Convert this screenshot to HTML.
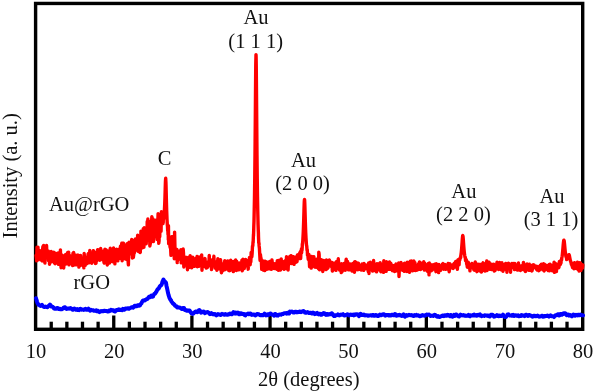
<!DOCTYPE html>
<html><head><meta charset="utf-8"><style>
html,body{margin:0;padding:0;background:#fff;}
body{width:594px;height:392px;overflow:hidden;}
svg{display:block;will-change:transform;filter:blur(0.35px);}
text{font-family:"Liberation Serif",serif;font-size:20.5px;fill:#111;}
</style></head><body>
<svg width="594" height="392" viewBox="0 0 594 392">
<rect x="0" y="0" width="594" height="392" fill="#fff"/>
<g stroke="#000" stroke-width="3.3">
<line x1="51.23" y1="321.7" x2="51.23" y2="329" />
<line x1="66.86" y1="321.7" x2="66.86" y2="329" />
<line x1="82.49" y1="321.7" x2="82.49" y2="329" />
<line x1="98.12" y1="321.7" x2="98.12" y2="329" />
<line x1="113.75" y1="315.5" x2="113.75" y2="329" />
<line x1="129.38" y1="321.7" x2="129.38" y2="329" />
<line x1="145.01" y1="321.7" x2="145.01" y2="329" />
<line x1="160.64" y1="321.7" x2="160.64" y2="329" />
<line x1="176.27" y1="321.7" x2="176.27" y2="329" />
<line x1="191.90" y1="315.5" x2="191.90" y2="329" />
<line x1="207.53" y1="321.7" x2="207.53" y2="329" />
<line x1="223.16" y1="321.7" x2="223.16" y2="329" />
<line x1="238.79" y1="321.7" x2="238.79" y2="329" />
<line x1="254.42" y1="321.7" x2="254.42" y2="329" />
<line x1="270.05" y1="315.5" x2="270.05" y2="329" />
<line x1="285.68" y1="321.7" x2="285.68" y2="329" />
<line x1="301.31" y1="321.7" x2="301.31" y2="329" />
<line x1="316.94" y1="321.7" x2="316.94" y2="329" />
<line x1="332.57" y1="321.7" x2="332.57" y2="329" />
<line x1="348.20" y1="315.5" x2="348.20" y2="329" />
<line x1="363.83" y1="321.7" x2="363.83" y2="329" />
<line x1="379.46" y1="321.7" x2="379.46" y2="329" />
<line x1="395.09" y1="321.7" x2="395.09" y2="329" />
<line x1="410.72" y1="321.7" x2="410.72" y2="329" />
<line x1="426.35" y1="315.5" x2="426.35" y2="329" />
<line x1="441.98" y1="321.7" x2="441.98" y2="329" />
<line x1="457.61" y1="321.7" x2="457.61" y2="329" />
<line x1="473.24" y1="321.7" x2="473.24" y2="329" />
<line x1="488.87" y1="321.7" x2="488.87" y2="329" />
<line x1="504.50" y1="315.5" x2="504.50" y2="329" />
<line x1="520.13" y1="321.7" x2="520.13" y2="329" />
<line x1="535.76" y1="321.7" x2="535.76" y2="329" />
<line x1="551.39" y1="321.7" x2="551.39" y2="329" />
<line x1="567.02" y1="321.7" x2="567.02" y2="329" />
</g>
<rect x="35.6" y="3.45" width="547.1" height="325.85" fill="none" stroke="#000" stroke-width="3.4"/>
<path d="M36.00 298.25L36.50 299.84L37.00 301.60L37.50 303.21L38.00 303.84L38.50 304.81L39.00 304.86L39.50 305.31L40.00 305.72L40.50 305.89L41.00 305.50L41.50 305.32L42.00 304.85L42.50 305.93L43.00 306.13L43.50 306.70L44.00 306.91L44.50 306.94L45.00 306.90L45.50 306.58L46.00 306.71L46.50 306.93L47.00 306.90L47.50 307.15L48.00 306.59L48.50 306.06L49.00 305.45L49.50 305.16L50.00 304.58L50.50 305.11L51.00 305.79L51.50 306.62L52.00 306.64L52.50 306.69L53.00 307.06L53.50 307.63L54.00 308.50L54.50 308.45L55.00 308.76L55.50 308.43L56.00 308.76L56.50 308.60L57.00 308.08L57.50 307.89L58.00 308.22L58.50 309.05L59.00 309.06L59.50 309.01L60.00 308.74L60.50 309.28L61.00 309.21L61.50 309.18L62.00 309.14L62.50 308.69L63.00 308.57L63.50 307.71L64.00 307.45L64.50 307.18L65.00 307.25L65.50 308.04L66.00 308.62L66.50 309.02L67.00 308.81L67.50 308.42L68.00 308.43L68.50 308.52L69.00 308.71L69.50 308.64L70.00 308.35L70.50 308.10L71.00 308.54L71.50 308.69L72.00 309.35L72.50 309.05L73.00 309.66L73.50 308.85L74.00 308.74L74.50 308.48L75.00 309.05L75.50 309.26L76.00 309.79L76.50 309.69L77.00 309.86L77.50 309.07L78.00 309.60L78.50 309.82L79.00 310.16L79.50 309.15L80.00 309.03L80.50 308.78L81.00 309.46L81.50 309.67L82.00 309.61L82.50 309.59L83.00 309.61L83.50 309.93L84.00 309.79L84.50 309.21L85.00 308.98L85.50 308.75L86.00 309.47L86.50 309.79L87.00 309.87L87.50 309.63L88.00 309.26L88.50 308.67L89.00 309.13L89.50 309.97L90.00 310.62L90.50 310.08L91.00 309.84L91.50 310.26L92.00 310.28L92.50 310.13L93.00 310.24L93.50 310.41L94.00 310.71L94.50 310.78L95.00 310.78L95.50 310.77L96.00 310.37L96.50 311.12L97.00 310.61L97.50 311.16L98.00 310.86L98.50 311.59L99.00 311.75L99.50 312.09L100.00 311.65L100.50 311.50L101.00 311.10L101.50 311.25L102.00 311.03L102.50 311.34L103.00 311.22L103.50 311.21L104.00 310.67L104.50 310.77L105.00 310.92L105.50 310.90L106.00 311.03L106.50 310.97L107.00 311.14L107.50 311.40L108.00 311.04L108.50 311.36L109.00 310.74L109.50 311.16L110.00 310.64L110.50 310.66L111.00 309.80L111.50 310.23L112.00 310.05L112.50 310.39L113.00 310.18L113.50 310.41L114.00 311.22L114.50 311.39L115.00 311.55L115.50 311.01L116.00 310.69L116.50 310.02L117.00 309.97L117.50 309.74L118.00 309.97L118.50 309.94L119.00 309.37L119.50 309.73L120.00 309.99L120.50 309.98L121.00 309.68L121.50 309.69L122.00 310.16L122.50 309.73L123.00 308.88L123.50 308.95L124.00 309.78L124.50 309.68L125.00 309.36L125.50 308.42L126.00 308.54L126.50 308.50L127.00 308.59L127.50 308.34L128.00 308.77L128.50 308.60L129.00 308.63L129.50 308.19L130.00 308.11L130.50 307.95L131.00 307.75L131.50 307.28L132.00 307.42L132.50 307.30L133.00 307.68L133.50 307.24L134.00 306.77L134.50 305.88L135.00 305.74L135.50 305.71L136.00 306.38L136.50 306.33L137.00 305.99L137.50 305.33L138.00 305.14L138.50 305.18L139.00 305.68L139.50 305.57L140.00 305.24L140.50 304.31L141.00 303.64L141.50 303.20L142.00 302.03L142.50 301.17L143.00 300.48L143.50 300.66L144.00 300.61L144.50 300.50L145.00 300.20L145.50 299.64L146.00 299.69L146.50 299.19L147.00 299.03L147.50 298.87L148.00 298.06L148.50 297.67L149.00 296.89L149.50 297.19L150.00 297.22L150.50 296.30L151.00 295.77L151.50 295.48L152.00 296.60L152.50 296.80L153.00 296.54L153.50 295.10L154.00 294.46L154.50 293.75L155.00 293.82L155.50 292.97L156.00 292.33L156.50 291.48L157.00 290.40L157.50 289.48L158.00 289.01L158.50 288.66L159.00 288.10L159.50 286.76L160.00 286.01L160.50 285.64L161.00 285.51L161.50 284.67L162.00 283.41L162.50 281.57L163.00 280.51L163.50 279.50L164.00 280.67L164.50 281.47L165.00 281.68L165.50 282.33L166.00 282.79L166.50 285.93L167.00 288.01L167.50 290.39L168.00 292.82L168.50 294.88L169.00 296.36L169.50 297.97L170.00 298.86L170.50 299.95L171.00 300.14L171.50 301.54L172.00 302.15L172.50 302.80L173.00 303.54L173.50 303.62L174.00 304.44L174.50 304.67L175.00 305.76L175.50 305.86L176.00 306.15L176.50 306.39L177.00 307.31L177.50 307.08L178.00 307.19L178.50 307.21L179.00 307.60L179.50 307.50L180.00 307.70L180.50 308.09L181.00 308.36L181.50 308.89L182.00 309.05L182.50 309.08L183.00 307.95L183.50 308.01L184.00 308.01L184.50 309.32L185.00 310.13L185.50 310.22L186.00 310.40L186.50 310.36L187.00 310.79L187.50 310.54L188.00 310.52L188.50 310.79L189.00 310.46L189.50 310.51L190.00 311.19L190.50 312.07L191.00 312.57L191.50 313.32L192.00 313.56L192.50 313.85L193.00 313.21L193.50 313.37L194.00 312.55L194.50 312.50L195.00 312.03L195.50 311.63L196.00 311.43L196.50 311.54L197.00 312.21L197.50 312.19L198.00 311.79L198.50 311.24L199.00 310.28L199.50 310.13L200.00 310.60L200.50 311.93L201.00 312.62L201.50 312.42L202.00 312.25L202.50 312.28L203.00 311.77L203.50 311.43L204.00 311.75L204.50 312.75L205.00 313.20L205.50 312.85L206.00 312.49L206.50 312.36L207.00 312.28L207.50 311.92L208.00 312.24L208.50 312.50L209.00 313.13L209.50 313.71L210.00 314.14L210.50 314.05L211.00 313.76L211.50 313.18L212.00 313.77L212.50 313.73L213.00 314.19L213.50 314.10L214.00 314.52L214.50 314.49L215.00 314.07L215.50 314.33L216.00 314.53L216.50 315.34L217.00 314.55L217.50 314.72L218.00 314.13L218.50 314.58L219.00 314.44L219.50 314.49L220.00 314.82L220.50 315.07L221.00 314.71L221.50 314.22L222.00 313.90L222.50 314.20L223.00 314.15L223.50 314.34L224.00 314.78L224.50 314.77L225.00 314.40L225.50 314.12L226.00 314.52L226.50 314.56L227.00 314.80L227.50 314.57L228.00 314.73L228.50 314.53L229.00 314.05L229.50 313.96L230.00 313.44L230.50 313.70L231.00 314.13L231.50 314.12L232.00 314.24L232.50 313.06L233.00 312.89L233.50 312.10L234.00 313.17L234.50 313.15L235.00 313.58L235.50 312.49L236.00 312.77L236.50 312.76L237.00 313.44L237.50 312.63L238.00 312.57L238.50 312.89L239.00 314.19L239.50 314.31L240.00 313.61L240.50 313.20L241.00 313.42L241.50 313.74L242.00 314.04L242.50 313.68L243.00 314.02L243.50 314.13L244.00 314.12L244.50 315.03L245.00 314.91L245.50 315.29L246.00 314.25L246.50 314.28L247.00 314.15L247.50 313.99L248.00 313.56L248.50 313.79L249.00 314.27L249.50 314.00L250.00 313.42L250.50 313.41L251.00 314.01L251.50 314.84L252.00 314.55L252.50 314.74L253.00 314.45L253.50 314.66L254.00 314.43L254.50 314.81L255.00 315.13L255.50 315.43L256.00 314.91L256.50 314.64L257.00 314.01L257.50 314.04L258.00 313.99L258.50 314.20L259.00 314.57L259.50 314.82L260.00 315.18L260.50 314.99L261.00 315.18L261.50 314.97L262.00 315.22L262.50 315.03L263.00 315.21L263.50 314.89L264.00 314.35L264.50 313.67L265.00 314.28L265.50 314.77L266.00 315.33L266.50 314.67L267.00 314.40L267.50 315.14L268.00 314.83L268.50 314.95L269.00 314.04L269.50 314.03L270.00 313.65L270.50 313.51L271.00 313.80L271.50 314.10L272.00 314.62L272.50 314.42L273.00 314.75L273.50 315.01L274.00 315.69L274.50 315.28L275.00 313.99L275.50 314.03L276.00 314.58L276.50 315.36L277.00 315.55L277.50 315.33L278.00 315.60L278.50 314.75L279.00 314.83L279.50 314.52L280.00 314.54L280.50 314.63L281.00 314.68L281.50 314.23L282.00 313.97L282.50 314.02L283.00 314.07L283.50 313.60L284.00 313.22L284.50 313.25L285.00 313.27L285.50 313.30L286.00 313.09L286.50 313.56L287.00 313.02L287.50 312.89L288.00 312.73L288.50 313.55L289.00 313.61L289.50 312.83L290.00 311.66L290.50 311.87L291.00 311.86L291.50 311.81L292.00 311.46L292.50 311.70L293.00 312.05L293.50 312.61L294.00 312.56L294.50 312.50L295.00 311.83L295.50 311.66L296.00 311.91L296.50 312.20L297.00 312.37L297.50 312.08L298.00 312.06L298.50 312.13L299.00 312.02L299.50 311.41L300.00 311.58L300.50 311.88L301.00 312.22L301.50 311.84L302.00 311.66L302.50 311.35L303.00 311.30L303.50 311.02L304.00 311.67L304.50 311.77L305.00 312.62L305.50 312.60L306.00 312.82L306.50 312.46L307.00 312.46L307.50 312.00L308.00 312.46L308.50 312.70L309.00 313.03L309.50 312.86L310.00 312.76L310.50 312.76L311.00 312.81L311.50 313.34L312.00 313.52L312.50 313.05L313.00 312.54L313.50 313.21L314.00 313.43L314.50 314.02L315.00 313.44L315.50 313.95L316.00 313.60L316.50 313.23L317.00 312.93L317.50 313.64L318.00 314.11L318.50 314.45L319.00 313.75L319.50 313.79L320.00 313.76L320.50 314.04L321.00 314.79L321.50 314.73L322.00 314.57L322.50 313.74L323.00 313.39L323.50 313.00L324.00 313.44L324.50 313.31L325.00 314.26L325.50 314.35L326.00 314.85L326.50 314.10L327.00 313.88L327.50 314.00L328.00 314.72L328.50 314.51L329.00 314.42L329.50 314.09L330.00 314.26L330.50 314.21L331.00 313.73L331.50 313.35L332.00 313.36L332.50 313.84L333.00 314.66L333.50 315.59L334.00 316.04L334.50 316.04L335.00 315.94L335.50 315.41L336.00 315.16L336.50 315.32L337.00 315.06L337.50 315.12L338.00 314.37L338.50 315.16L339.00 315.13L339.50 315.47L340.00 314.94L340.50 314.75L341.00 314.59L341.50 314.76L342.00 314.78L342.50 314.45L343.00 314.17L343.50 314.81L344.00 315.21L344.50 315.52L345.00 315.38L345.50 315.10L346.00 315.17L346.50 314.84L347.00 314.59L347.50 314.23L348.00 314.48L348.50 314.91L349.00 315.44L349.50 314.87L350.00 314.78L350.50 314.58L351.00 314.80L351.50 314.95L352.00 314.71L352.50 314.66L353.00 314.92L353.50 314.63L354.00 315.27L354.50 314.81L355.00 314.95L355.50 314.38L356.00 314.29L356.50 314.32L357.00 314.67L357.50 314.33L358.00 314.96L358.50 315.13L359.00 316.11L359.50 315.44L360.00 314.50L360.50 313.90L361.00 314.14L361.50 314.93L362.00 314.97L362.50 314.99L363.00 314.95L363.50 314.64L364.00 315.21L364.50 314.83L365.00 315.38L365.50 315.16L366.00 315.26L366.50 315.19L367.00 315.35L367.50 315.51L368.00 315.82L368.50 315.42L369.00 315.58L369.50 315.48L370.00 315.32L370.50 315.19L371.00 315.27L371.50 315.42L372.00 315.63L372.50 314.99L373.00 314.92L373.50 315.13L374.00 315.76L374.50 315.86L375.00 315.35L375.50 314.90L376.00 314.93L376.50 315.51L377.00 315.71L377.50 315.97L378.00 315.45L378.50 315.80L379.00 315.11L379.50 315.26L380.00 314.58L380.50 315.08L381.00 315.20L381.50 315.24L382.00 314.82L382.50 314.52L383.00 314.36L383.50 314.30L384.00 314.18L384.50 314.86L385.00 315.55L385.50 315.68L386.00 315.36L386.50 315.01L387.00 314.99L387.50 315.00L388.00 315.18L388.50 315.41L389.00 315.47L389.50 315.05L390.00 315.42L390.50 315.27L391.00 315.48L391.50 314.73L392.00 314.74L392.50 314.73L393.00 314.92L393.50 315.26L394.00 315.26L394.50 314.96L395.00 314.12L395.50 314.39L396.00 314.63L396.50 315.77L397.00 315.47L397.50 315.42L398.00 315.15L398.50 315.07L399.00 315.30L399.50 314.86L400.00 315.13L400.50 315.47L401.00 315.60L401.50 315.96L402.00 315.48L402.50 315.72L403.00 314.72L403.50 314.33L404.00 314.90L404.50 315.82L405.00 316.69L405.50 315.64L406.00 315.30L406.50 315.09L407.00 315.64L407.50 315.67L408.00 315.29L408.50 315.23L409.00 314.82L409.50 315.01L410.00 315.18L410.50 315.29L411.00 315.31L411.50 315.07L412.00 315.31L412.50 315.67L413.00 315.87L413.50 315.98L414.00 315.28L414.50 315.10L415.00 315.23L415.50 315.40L416.00 315.38L416.50 314.85L417.00 315.51L417.50 315.50L418.00 315.57L418.50 315.36L419.00 315.83L419.50 316.19L420.00 316.30L420.50 316.04L421.00 315.85L421.50 315.43L422.00 315.22L422.50 315.08L423.00 315.32L423.50 315.44L424.00 315.64L424.50 315.72L425.00 315.73L425.50 315.30L426.00 314.89L426.50 314.58L427.00 314.42L427.50 314.68L428.00 314.66L428.50 314.85L429.00 314.50L429.50 315.11L430.00 315.40L430.50 316.02L431.00 315.74L431.50 315.70L432.00 315.57L432.50 315.78L433.00 315.94L433.50 315.47L434.00 315.16L434.50 314.77L435.00 315.01L435.50 315.17L436.00 315.96L436.50 316.46L437.00 316.63L437.50 316.47L438.00 316.13L438.50 316.75L439.00 316.91L439.50 316.91L440.00 316.91L440.50 316.60L441.00 316.13L441.50 316.07L442.00 316.04L442.50 315.44L443.00 315.66L443.50 315.61L444.00 316.15L444.50 315.80L445.00 315.24L445.50 315.15L446.00 315.56L446.50 315.71L447.00 315.27L447.50 314.84L448.00 315.15L448.50 314.93L449.00 315.54L449.50 315.92L450.00 316.24L450.50 315.18L451.00 314.99L451.50 315.76L452.00 316.54L452.50 316.78L453.00 315.92L453.50 315.74L454.00 314.96L454.50 315.82L455.00 315.92L455.50 315.74L456.00 314.62L456.50 314.59L457.00 315.25L457.50 315.71L458.00 315.75L458.50 316.30L459.00 316.50L459.50 315.79L460.00 315.15L460.50 314.66L461.00 314.96L461.50 315.10L462.00 315.44L462.50 315.36L463.00 315.26L463.50 315.07L464.00 315.54L464.50 315.48L465.00 315.83L465.50 315.60L466.00 315.89L466.50 315.74L467.00 315.81L467.50 315.43L468.00 315.51L468.50 314.99L469.00 315.95L469.50 315.70L470.00 316.26L470.50 315.33L471.00 315.39L471.50 315.48L472.00 315.47L472.50 315.49L473.00 314.97L473.50 314.85L474.00 314.63L474.50 315.57L475.00 315.45L475.50 315.47L476.00 315.00L476.50 315.82L477.00 315.63L477.50 315.12L478.00 314.74L478.50 315.34L479.00 315.38L479.50 314.81L480.00 314.43L480.50 315.07L481.00 315.59L481.50 316.09L482.00 315.84L482.50 315.84L483.00 315.81L483.50 315.80L484.00 315.88L484.50 315.44L485.00 315.30L485.50 315.37L486.00 315.56L486.50 315.52L487.00 315.58L487.50 315.81L488.00 316.03L488.50 315.61L489.00 315.72L489.50 316.45L490.00 316.44L490.50 315.72L491.00 314.76L491.50 314.73L492.00 314.81L492.50 314.70L493.00 315.22L493.50 315.85L494.00 316.63L494.50 316.60L495.00 316.21L495.50 316.09L496.00 315.70L496.50 315.74L497.00 315.08L497.50 315.62L498.00 316.02L498.50 316.22L499.00 315.78L499.50 315.49L500.00 315.69L500.50 316.03L501.00 316.04L501.50 316.10L502.00 315.41L502.50 315.31L503.00 314.66L503.50 315.63L504.00 316.12L504.50 316.86L505.00 316.67L505.50 316.84L506.00 316.91L506.50 316.12L507.00 315.48L507.50 314.51L508.00 314.74L508.50 314.44L509.00 315.13L509.50 315.48L510.00 315.58L510.50 315.50L511.00 315.46L511.50 315.69L512.00 315.72L512.50 314.94L513.00 314.86L513.50 315.14L514.00 315.92L514.50 315.62L515.00 315.31L515.50 315.31L516.00 315.46L516.50 315.74L517.00 315.43L517.50 315.62L518.00 315.39L518.50 316.28L519.00 316.28L519.50 316.15L520.00 315.71L520.50 315.67L521.00 315.89L521.50 315.03L522.00 315.25L522.50 315.19L523.00 315.47L523.50 315.78L524.00 315.72L524.50 316.04L525.00 315.27L525.50 314.86L526.00 314.76L526.50 314.70L527.00 315.31L527.50 315.74L528.00 316.00L528.50 315.38L529.00 315.02L529.50 314.90L530.00 315.41L530.50 315.58L531.00 315.77L531.50 315.74L532.00 316.00L532.50 316.62L533.00 316.45L533.50 316.35L534.00 315.79L534.50 315.64L535.00 315.80L535.50 315.98L536.00 316.33L536.50 316.07L537.00 315.91L537.50 315.56L538.00 315.98L538.50 316.29L539.00 316.67L539.50 316.44L540.00 316.55L540.50 316.42L541.00 316.31L541.50 315.84L542.00 316.09L542.50 315.84L543.00 316.65L543.50 316.36L544.00 316.58L544.50 316.01L545.00 316.02L545.50 316.14L546.00 315.99L546.50 315.97L547.00 315.70L547.50 315.50L548.00 315.97L548.50 316.15L549.00 316.66L549.50 315.92L550.00 315.82L550.50 315.31L551.00 315.73L551.50 316.02L552.00 316.32L552.50 316.25L553.00 316.21L553.50 316.43L554.00 317.02L554.50 316.15L555.00 315.96L555.50 315.22L556.00 315.43L556.50 315.30L557.00 315.01L557.50 314.54L558.00 314.17L558.50 314.35L559.00 315.47L559.50 315.45L560.00 315.11L560.50 313.92L561.00 313.95L561.50 314.14L562.00 314.69L562.50 314.29L563.00 314.07L563.50 313.32L564.00 313.69L564.50 313.38L565.00 313.16L565.50 313.54L566.00 314.22L566.50 315.21L567.00 315.06L567.50 314.70L568.00 314.99L568.50 314.67L569.00 315.61L569.50 315.45L570.00 315.31L570.50 315.09L571.00 315.68L571.50 316.23L572.00 316.37L572.50 315.71L573.00 315.58L573.50 314.49L574.00 314.89L574.50 314.91L575.00 315.74L575.50 315.03L576.00 314.87L576.50 315.05L577.00 315.24L577.50 315.36L578.00 314.65L578.50 314.79L579.00 315.11L579.50 315.31L580.00 315.17L580.50 314.56L581.00 315.07L581.50 314.92L582.00 315.20L582.50 315.26L583.00 315.42" fill="none" stroke="#0000ff" stroke-width="4.0" stroke-linejoin="round" stroke-linecap="round"/>
<path d="M36.00 255.32L36.33 257.63L36.66 260.79L36.99 247.21L37.32 250.39L37.65 256.23L37.98 247.13L38.31 259.89L38.64 255.44L38.97 253.57L39.30 251.77L39.63 250.61L39.96 251.29L40.29 251.70L40.62 254.98L40.95 256.36L41.28 260.15L41.61 254.99L41.94 257.96L42.27 260.93L42.60 249.24L42.93 246.57L43.26 254.10L43.59 245.39L43.92 246.79L44.25 255.82L44.58 250.55L44.91 263.07L45.24 255.29L45.57 253.79L45.90 256.60L46.23 251.54L46.56 245.53L46.89 254.17L47.22 257.45L47.55 251.86L47.88 254.49L48.21 251.04L48.54 260.62L48.87 252.91L49.20 251.87L49.53 264.22L49.86 255.71L50.19 261.49L50.52 262.14L50.85 261.20L51.18 251.41L51.51 261.51L51.84 258.14L52.17 261.67L52.50 256.82L52.83 257.35L53.16 253.34L53.49 258.27L53.82 254.71L54.15 252.31L54.48 263.05L54.81 256.77L55.14 263.72L55.47 260.67L55.80 256.95L56.13 259.88L56.46 260.50L56.79 253.38L57.12 258.34L57.45 253.24L57.78 258.31L58.11 252.90L58.44 264.40L58.77 252.81L59.10 253.08L59.43 256.70L59.76 262.74L60.09 261.38L60.42 249.85L60.75 263.03L61.08 267.70L61.41 264.34L61.74 258.50L62.07 255.80L62.40 255.41L62.73 266.97L63.06 260.05L63.39 256.69L63.72 267.95L64.05 262.47L64.38 261.18L64.71 258.35L65.04 262.15L65.37 256.20L65.70 254.56L66.03 263.97L66.36 261.68L66.69 260.00L67.02 258.52L67.35 262.85L67.68 252.55L68.01 260.79L68.34 252.54L68.67 252.38L69.00 264.87L69.33 261.20L69.66 261.74L69.99 260.14L70.32 262.70L70.65 255.87L70.98 261.26L71.31 263.01L71.64 260.20L71.97 258.73L72.30 264.01L72.63 265.52L72.96 253.25L73.29 265.36L73.62 252.40L73.95 259.50L74.28 264.58L74.61 255.39L74.94 257.76L75.27 261.79L75.60 255.13L75.93 261.62L76.26 264.92L76.59 261.73L76.92 261.77L77.25 257.02L77.58 255.12L77.91 257.58L78.24 255.10L78.57 257.45L78.90 267.07L79.23 260.65L79.56 257.16L79.89 256.07L80.22 265.43L80.55 255.46L80.88 265.04L81.21 259.46L81.54 258.74L81.87 264.37L82.20 261.55L82.53 263.15L82.86 260.04L83.19 264.81L83.52 257.71L83.85 267.91L84.18 253.51L84.51 257.76L84.84 260.52L85.17 265.37L85.50 257.39L85.83 262.83L86.16 264.17L86.49 260.23L86.82 261.34L87.15 263.48L87.48 258.83L87.81 256.46L88.14 254.10L88.47 253.41L88.80 256.12L89.13 262.76L89.46 262.37L89.79 250.50L90.12 259.71L90.45 257.54L90.78 258.74L91.11 259.09L91.44 254.50L91.77 263.20L92.10 258.08L92.43 261.88L92.76 256.58L93.09 252.89L93.42 250.61L93.75 257.00L94.08 259.77L94.41 261.73L94.74 259.06L95.07 252.81L95.40 263.43L95.73 261.36L96.06 263.26L96.39 257.07L96.72 260.69L97.05 251.33L97.38 250.54L97.71 249.63L98.04 254.82L98.37 255.08L98.70 250.41L99.03 256.48L99.36 252.34L99.69 260.28L100.02 250.43L100.35 257.36L100.68 248.50L101.01 253.05L101.34 257.95L101.67 257.32L102.00 258.93L102.33 257.13L102.66 259.84L102.99 251.18L103.32 257.77L103.65 251.11L103.98 262.51L104.31 263.00L104.64 262.07L104.97 249.11L105.30 257.33L105.63 255.34L105.96 249.68L106.29 258.80L106.62 262.36L106.95 255.10L107.28 265.03L107.61 263.40L107.94 250.99L108.27 260.73L108.60 254.30L108.93 253.25L109.26 252.25L109.59 262.93L109.92 258.87L110.25 248.24L110.58 258.28L110.91 258.99L111.24 259.53L111.57 259.78L111.90 253.51L112.23 260.37L112.56 261.65L112.89 260.79L113.22 252.40L113.55 248.00L113.88 254.90L114.21 249.18L114.54 255.50L114.87 263.87L115.20 250.93L115.53 251.46L115.86 256.00L116.19 257.23L116.52 249.14L116.85 251.17L117.18 251.32L117.51 259.67L117.84 260.86L118.17 249.42L118.50 250.51L118.83 257.32L119.16 252.74L119.49 250.50L119.82 251.88L120.15 252.21L120.48 246.15L120.81 258.37L121.14 253.65L121.47 245.31L121.80 243.15L122.13 260.73L122.46 243.90L122.79 243.31L123.12 246.54L123.45 243.18L123.78 255.30L124.11 254.45L124.44 248.75L124.77 257.46L125.10 258.69L125.43 245.85L125.76 245.42L126.09 259.26L126.42 246.49L126.75 253.68L127.08 243.62L127.41 254.20L127.74 255.31L128.07 260.95L128.40 264.92L128.73 249.31L129.06 242.09L129.39 251.39L129.72 249.14L130.05 242.92L130.38 248.66L130.71 247.67L131.04 253.65L131.37 254.01L131.70 239.52L132.03 242.58L132.36 257.98L132.69 249.36L133.02 252.42L133.35 257.42L133.68 255.04L134.01 251.62L134.34 252.97L134.67 239.90L135.00 249.64L135.33 238.96L135.66 250.00L135.99 248.88L136.32 246.92L136.65 248.46L136.98 238.78L137.31 246.68L137.64 235.23L137.97 251.20L138.30 242.05L138.63 243.77L138.96 249.00L139.29 245.90L139.62 239.18L139.95 252.54L140.28 252.35L140.61 243.78L140.94 231.11L141.27 247.86L141.60 248.28L141.93 236.73L142.26 242.23L142.59 240.69L142.92 247.66L143.25 228.80L143.58 232.79L143.91 247.34L144.24 227.66L144.57 230.12L144.90 241.32L145.23 233.96L145.56 243.59L145.89 229.07L146.22 243.72L146.55 228.12L146.88 240.81L147.21 221.56L147.54 236.49L147.87 218.98L148.20 232.17L148.53 231.36L148.86 238.28L149.19 229.86L149.52 221.33L149.85 246.04L150.18 243.99L150.51 243.28L150.84 228.11L151.17 227.26L151.50 224.85L151.83 216.73L152.16 220.56L152.49 230.92L152.82 218.78L153.15 224.47L153.48 241.45L153.81 221.31L154.14 220.27L154.47 229.00L154.80 225.02L155.13 236.62L155.46 220.22L155.79 228.55L156.12 230.59L156.45 229.67L156.78 226.43L157.11 239.43L157.44 234.60L157.77 222.69L158.10 213.64L158.43 216.51L158.76 243.38L159.09 240.72L159.42 215.52L159.75 236.71L160.08 215.77L160.41 224.79L160.74 227.60L161.07 231.30L161.40 211.82L161.73 219.15L162.06 221.52L162.39 213.31L162.70 217.46L162.72 219.08L162.95 223.63L163.05 221.20L163.20 222.60L163.38 217.63L163.45 219.60L163.70 217.82L163.71 216.93L163.95 215.21L164.04 213.59L164.20 212.74L164.37 210.65L164.45 209.45L164.70 204.59L164.95 197.76L165.03 195.17L165.20 189.25L165.36 183.82L165.45 181.26L165.69 178.22L165.70 178.25L165.95 182.93L166.02 185.35L166.20 192.60L166.35 198.87L166.45 202.81L166.68 210.73L166.70 211.33L166.95 217.89L167.01 219.22L167.20 222.88L167.34 225.40L167.45 225.86L167.67 230.60L167.70 227.91L167.95 232.71L168.00 234.33L168.20 230.14L168.33 239.65L168.45 225.77L168.66 243.75L168.70 236.05L168.99 239.60L169.32 243.61L169.65 240.43L169.98 246.66L170.31 247.77L170.64 248.78L170.97 255.35L171.30 250.47L171.63 236.73L171.96 246.40L172.29 247.56L172.62 248.10L172.95 236.36L173.28 241.68L173.61 246.75L173.94 236.48L174.27 258.72L174.60 232.13L174.93 247.03L175.26 255.71L175.59 256.91L175.92 252.25L176.25 258.78L176.58 252.48L176.91 249.42L177.24 262.65L177.57 250.61L177.90 258.53L178.23 254.08L178.56 252.19L178.89 252.17L179.22 258.21L179.55 251.68L179.88 257.30L180.21 259.54L180.54 256.25L180.87 249.63L181.20 262.86L181.53 255.27L181.86 262.43L182.19 261.52L182.52 260.77L182.85 262.71L183.18 249.05L183.51 253.42L183.84 267.01L184.17 264.28L184.50 257.07L184.83 261.34L185.16 262.29L185.49 263.41L185.82 257.53L186.15 257.89L186.48 259.60L186.81 257.35L187.14 260.56L187.47 269.77L187.80 260.99L188.13 258.06L188.46 260.76L188.79 261.45L189.12 266.64L189.45 267.27L189.78 258.64L190.11 255.63L190.44 264.38L190.77 259.48L191.10 266.44L191.43 258.09L191.76 267.82L192.09 257.35L192.42 260.60L192.75 257.16L193.08 260.93L193.41 264.57L193.74 264.72L194.07 261.61L194.40 266.32L194.73 259.92L195.06 260.93L195.39 262.26L195.72 258.40L196.05 259.78L196.38 264.33L196.71 265.75L197.04 256.40L197.37 266.69L197.70 265.69L198.03 262.64L198.36 257.76L198.69 266.38L199.02 256.97L199.35 263.68L199.68 260.39L200.01 264.42L200.34 259.01L200.67 261.69L201.00 264.07L201.33 264.63L201.66 254.91L201.99 270.25L202.32 261.81L202.65 260.06L202.98 261.37L203.31 259.62L203.64 263.87L203.97 266.32L204.30 264.92L204.63 259.57L204.96 258.50L205.29 261.91L205.62 267.08L205.95 263.92L206.28 268.06L206.61 262.72L206.94 265.57L207.27 264.86L207.60 267.33L207.93 263.96L208.26 262.06L208.59 263.33L208.92 264.22L209.25 255.48L209.58 263.43L209.91 265.60L210.24 259.83L210.57 262.34L210.90 261.34L211.23 263.66L211.56 269.56L211.89 259.91L212.22 261.34L212.55 261.90L212.88 265.66L213.21 260.07L213.54 263.78L213.87 256.29L214.20 264.51L214.53 266.44L214.86 261.36L215.19 268.07L215.52 265.39L215.85 264.88L216.18 268.10L216.51 264.29L216.84 270.21L217.17 267.82L217.50 266.85L217.83 258.77L218.16 265.47L218.49 267.24L218.82 266.73L219.15 261.98L219.48 268.85L219.81 267.83L220.14 260.86L220.47 259.62L220.80 261.45L221.13 270.33L221.46 272.82L221.79 271.75L222.12 266.36L222.45 266.27L222.78 264.18L223.11 265.59L223.44 270.20L223.77 267.85L224.10 264.53L224.43 266.42L224.76 260.70L225.09 268.80L225.42 269.41L225.75 263.57L226.08 268.91L226.41 266.81L226.74 265.84L227.07 262.69L227.40 262.66L227.73 260.95L228.06 263.85L228.39 264.93L228.72 270.46L229.05 263.19L229.38 270.68L229.71 267.29L230.04 270.61L230.37 265.08L230.70 260.17L231.03 268.80L231.36 262.61L231.69 262.98L232.02 268.77L232.35 268.23L232.68 263.04L233.01 261.67L233.34 271.67L233.67 262.18L234.00 268.87L234.33 262.42L234.66 267.36L234.99 260.71L235.32 265.48L235.65 259.96L235.98 265.07L236.31 270.49L236.64 261.16L236.97 263.92L237.30 268.22L237.63 266.34L237.96 262.98L238.29 267.20L238.62 266.03L238.95 269.76L239.28 263.04L239.61 267.28L239.94 267.40L240.27 268.71L240.60 264.09L240.93 267.18L241.26 268.39L241.59 267.27L241.92 260.10L242.25 270.85L242.58 268.16L242.91 259.29L243.24 267.92L243.57 262.03L243.90 266.43L244.23 268.62L244.56 263.49L244.89 262.31L245.22 262.88L245.55 259.55L245.88 261.59L246.21 260.56L246.54 260.72L246.87 260.59L247.20 266.02L247.53 261.77L247.86 266.51L248.19 269.17L248.52 261.96L248.85 265.40L249.18 263.65L249.51 257.41L249.84 257.76L250.17 264.69L250.50 259.84L250.83 262.05L251.16 252.39L251.49 254.79L251.82 256.93L252.15 253.26L252.48 246.10L252.81 245.89L253.00 241.72L253.14 242.62L253.25 239.49L253.47 234.23L253.50 235.92L253.75 228.48L253.80 226.21L254.00 220.98L254.13 214.82L254.25 209.30L254.46 198.42L254.50 195.98L254.75 177.99L254.79 174.64L255.00 154.62L255.12 141.33L255.25 125.59L255.45 99.81L255.50 93.41L255.75 65.86L255.78 63.43L256.00 54.65L256.11 56.97L256.25 66.01L256.44 86.22L256.50 93.71L256.75 126.03L256.77 128.54L257.00 155.21L257.10 165.31L257.25 178.73L257.43 192.27L257.50 196.86L257.75 210.53L257.76 211.05L258.00 221.29L258.09 224.84L258.25 229.78L258.42 233.09L258.50 236.89L258.75 242.87L259.00 243.27L259.08 245.63L259.41 248.35L259.74 254.29L260.07 260.32L260.40 254.33L260.73 257.29L261.06 258.47L261.39 261.51L261.72 269.41L262.05 261.30L262.38 260.73L262.71 265.91L263.04 264.44L263.37 270.07L263.70 264.77L264.03 261.20L264.36 265.38L264.69 270.56L265.02 262.35L265.35 261.37L265.68 269.87L266.01 266.69L266.34 263.99L266.67 261.97L267.00 269.32L267.33 265.81L267.66 266.48L267.99 267.59L268.32 267.37L268.65 263.71L268.98 262.29L269.31 268.85L269.64 261.35L269.97 261.43L270.30 264.29L270.63 264.95L270.96 263.73L271.29 269.31L271.62 262.09L271.95 260.04L272.28 262.85L272.61 267.30L272.94 263.33L273.27 265.69L273.60 264.84L273.93 265.02L274.26 268.61L274.59 268.10L274.92 263.74L275.25 266.48L275.58 263.95L275.91 267.58L276.24 264.53L276.57 264.64L276.90 269.29L277.23 260.75L277.56 267.69L277.89 264.49L278.22 260.36L278.55 270.35L278.88 267.38L279.21 260.35L279.54 269.84L279.87 260.26L280.20 260.04L280.53 270.10L280.86 267.92L281.19 258.91L281.52 268.29L281.85 266.96L282.18 261.10L282.51 264.31L282.84 265.23L283.17 264.35L283.50 266.67L283.83 266.57L284.16 269.35L284.49 262.43L284.82 267.11L285.15 260.65L285.48 267.98L285.81 267.02L286.14 268.27L286.47 256.77L286.80 263.41L287.13 268.98L287.46 268.94L287.79 262.11L288.12 269.96L288.45 260.91L288.78 260.77L289.11 264.14L289.44 260.95L289.77 256.35L290.10 260.67L290.43 258.85L290.76 257.48L291.09 255.77L291.42 263.43L291.75 262.71L292.08 262.83L292.41 262.79L292.74 256.62L293.07 260.24L293.40 256.62L293.73 258.99L294.06 264.42L294.39 257.95L294.72 257.26L295.05 261.53L295.38 257.21L295.71 257.01L296.04 262.30L296.37 261.22L296.70 258.80L297.03 261.73L297.36 255.05L297.69 257.56L298.02 255.01L298.35 256.25L298.68 257.73L299.01 257.69L299.34 258.59L299.67 253.04L300.00 257.19L300.33 251.67L300.66 258.55L300.99 250.91L301.32 250.80L301.50 248.69L301.65 252.79L301.75 249.04L301.98 248.82L302.00 250.41L302.25 247.09L302.31 244.08L302.50 243.90L302.64 242.43L302.75 241.24L302.97 237.58L303.00 237.09L303.25 232.28L303.30 231.17L303.50 226.12L303.63 222.32L303.75 218.47L303.96 211.26L304.00 209.88L304.25 202.40L304.29 201.53L304.50 199.35L304.62 200.14L304.75 202.56L304.95 208.48L305.00 210.19L305.25 218.93L305.28 219.94L305.50 226.74L305.61 229.70L305.75 233.06L305.94 236.94L306.00 238.02L306.25 241.50L306.27 241.93L306.50 245.42L306.60 245.38L306.75 246.21L306.93 248.59L307.00 250.01L307.25 250.41L307.26 249.45L307.50 255.40L307.59 255.33L307.92 256.08L308.25 259.39L308.58 254.19L308.91 254.47L309.24 259.63L309.57 266.77L309.90 264.71L310.23 264.46L310.56 265.52L310.89 257.41L311.22 268.09L311.55 256.34L311.88 257.59L312.21 263.81L312.54 265.95L312.87 265.00L313.20 261.74L313.53 259.22L313.86 256.70L314.19 265.35L314.52 266.78L314.85 260.85L315.18 267.24L315.51 263.45L315.84 262.60L316.17 263.18L316.50 259.12L316.83 261.44L317.16 263.26L317.49 267.55L317.82 263.77L318.15 266.63L318.48 268.76L318.81 252.13L319.14 254.55L319.47 269.77L319.80 264.55L320.13 259.78L320.46 260.95L320.79 268.47L321.12 265.79L321.45 259.64L321.78 263.96L322.11 265.38L322.44 263.14L322.77 271.51L323.10 268.81L323.43 267.51L323.76 260.45L324.09 264.85L324.42 267.15L324.75 264.98L325.08 267.65L325.41 266.73L325.74 261.19L326.07 269.65L326.40 259.92L326.73 267.47L327.06 262.97L327.39 268.47L327.72 268.19L328.05 267.61L328.38 262.06L328.71 264.57L329.04 266.15L329.37 259.95L329.70 262.14L330.03 261.94L330.36 265.87L330.69 263.68L331.02 265.42L331.35 262.34L331.68 267.07L332.01 262.49L332.34 271.03L332.67 270.67L333.00 266.10L333.33 265.25L333.66 267.89L333.99 263.22L334.32 268.48L334.65 264.19L334.98 268.61L335.31 265.42L335.64 267.50L335.97 270.37L336.30 261.58L336.63 267.12L336.96 266.38L337.29 264.59L337.62 264.66L337.95 262.62L338.28 258.81L338.61 262.82L338.94 263.14L339.27 268.82L339.60 270.11L339.93 265.50L340.26 269.92L340.59 268.48L340.92 264.09L341.25 272.58L341.58 263.65L341.91 271.05L342.24 271.33L342.57 269.25L342.90 266.24L343.23 266.14L343.56 267.10L343.89 264.80L344.22 263.42L344.55 264.22L344.88 269.46L345.21 270.28L345.54 264.97L345.87 262.01L346.20 259.21L346.53 264.46L346.86 264.84L347.19 268.58L347.52 261.39L347.85 268.67L348.18 264.78L348.51 269.90L348.84 263.90L349.17 266.20L349.50 266.29L349.83 268.84L350.16 264.03L350.49 269.78L350.82 264.80L351.15 269.56L351.48 266.77L351.81 267.83L352.14 271.01L352.47 267.61L352.80 263.35L353.13 264.72L353.46 270.45L353.79 266.21L354.12 265.94L354.45 272.24L354.78 261.66L355.11 261.66L355.44 263.08L355.77 262.40L356.10 266.51L356.43 268.24L356.76 265.19L357.09 262.88L357.42 269.68L357.75 268.59L358.08 267.37L358.41 263.19L358.74 269.56L359.07 268.75L359.40 265.49L359.73 269.06L360.06 265.53L360.39 265.45L360.72 268.33L361.05 266.74L361.38 269.98L361.71 268.46L362.04 264.07L362.37 269.84L362.70 266.27L363.03 266.17L363.36 265.96L363.69 270.33L364.02 263.53L364.35 269.06L364.68 268.99L365.01 267.02L365.34 268.90L365.67 265.42L366.00 265.02L366.33 266.34L366.66 267.16L366.99 266.02L367.32 268.18L367.65 265.77L367.98 269.99L368.31 271.62L368.64 262.87L368.97 273.51L369.30 267.48L369.63 263.76L369.96 267.16L370.29 262.26L370.62 268.90L370.95 264.44L371.28 265.77L371.61 266.59L371.94 268.71L372.27 269.56L372.60 271.11L372.93 264.43L373.26 266.89L373.59 260.56L373.92 266.93L374.25 270.45L374.58 264.26L374.91 269.27L375.24 267.28L375.57 264.94L375.90 269.51L376.23 265.65L376.56 271.90L376.89 263.65L377.22 264.45L377.55 267.22L377.88 267.11L378.21 264.01L378.54 266.57L378.87 265.85L379.20 267.25L379.53 269.14L379.86 270.30L380.19 262.64L380.52 266.98L380.85 271.71L381.18 264.96L381.51 268.61L381.84 264.88L382.17 267.75L382.50 266.94L382.83 270.84L383.16 267.80L383.49 272.36L383.82 260.77L384.15 270.05L384.48 265.74L384.81 265.73L385.14 265.17L385.47 267.99L385.80 267.14L386.13 271.32L386.46 261.67L386.79 264.00L387.12 266.62L387.45 268.56L387.78 266.96L388.11 267.13L388.44 267.85L388.77 269.28L389.10 265.39L389.43 261.94L389.76 262.92L390.09 269.40L390.42 267.10L390.75 263.13L391.08 268.00L391.41 266.78L391.74 266.92L392.07 268.53L392.40 270.68L392.73 266.28L393.06 265.58L393.39 267.37L393.72 269.10L394.05 269.16L394.38 267.49L394.71 271.52L395.04 267.94L395.37 271.06L395.70 264.81L396.03 264.04L396.36 269.66L396.69 266.49L397.02 270.71L397.35 267.02L397.68 266.30L398.01 264.60L398.34 269.59L398.67 262.93L399.00 276.49L399.33 269.72L399.66 264.91L399.99 263.25L400.32 268.33L400.65 267.49L400.98 262.53L401.31 266.31L401.64 264.00L401.97 266.74L402.30 267.99L402.63 270.41L402.96 267.86L403.29 263.87L403.62 265.28L403.95 267.06L404.28 271.37L404.61 263.30L404.94 268.84L405.27 270.88L405.60 266.53L405.93 264.94L406.26 267.14L406.59 266.20L406.92 271.51L407.25 262.08L407.58 264.48L407.91 263.76L408.24 269.54L408.57 265.50L408.90 269.10L409.23 269.11L409.56 272.26L409.89 264.98L410.22 261.25L410.55 266.19L410.88 270.45L411.21 267.37L411.54 260.94L411.87 267.07L412.20 269.61L412.53 270.78L412.86 268.44L413.19 270.19L413.52 270.30L413.85 260.89L414.18 263.12L414.51 267.99L414.84 262.57L415.17 265.32L415.50 270.55L415.83 267.08L416.16 265.65L416.49 270.19L416.82 266.84L417.15 270.10L417.48 268.76L417.81 265.90L418.14 265.89L418.47 264.05L418.80 269.32L419.13 265.21L419.46 261.88L419.79 269.08L420.12 267.07L420.45 268.17L420.78 269.46L421.11 263.50L421.44 263.32L421.77 267.69L422.10 263.08L422.43 267.70L422.76 267.55L423.09 268.01L423.42 268.55L423.75 261.73L424.08 264.35L424.41 270.13L424.74 263.23L425.07 266.74L425.40 264.36L425.73 268.29L426.06 264.93L426.39 268.09L426.72 267.31L427.05 268.72L427.38 271.24L427.71 270.56L428.04 267.92L428.37 263.44L428.70 268.48L429.03 274.88L429.36 263.03L429.69 269.82L430.02 263.85L430.35 266.65L430.68 266.52L431.01 267.30L431.34 270.89L431.67 268.38L432.00 265.00L432.33 270.16L432.66 266.56L432.99 265.00L433.32 266.85L433.65 266.24L433.98 265.62L434.31 264.83L434.64 264.30L434.97 266.64L435.30 264.76L435.63 269.80L435.96 271.67L436.29 263.71L436.62 268.03L436.95 270.68L437.28 264.90L437.61 266.22L437.94 268.46L438.27 267.90L438.60 272.61L438.93 264.52L439.26 270.87L439.59 268.77L439.92 269.97L440.25 269.14L440.58 270.39L440.91 265.69L441.24 268.82L441.57 266.24L441.90 267.75L442.23 265.04L442.56 263.95L442.89 263.65L443.22 268.74L443.55 269.09L443.88 267.40L444.21 265.21L444.54 268.54L444.87 264.36L445.20 268.18L445.53 269.29L445.86 267.71L446.19 268.59L446.52 265.44L446.85 269.05L447.18 266.03L447.51 266.52L447.84 265.48L448.17 263.51L448.50 268.72L448.83 266.43L449.16 271.73L449.49 269.52L449.82 263.61L450.15 266.53L450.48 264.69L450.81 267.76L451.14 266.05L451.47 265.02L451.80 265.23L452.13 267.36L452.46 267.92L452.79 264.60L453.12 268.44L453.45 266.06L453.78 267.37L454.11 263.42L454.44 265.42L454.77 267.16L455.10 266.68L455.43 261.60L455.76 264.87L456.09 262.86L456.42 264.01L456.75 260.96L457.08 265.12L457.41 269.27L457.74 262.89L458.07 259.77L458.40 262.91L458.73 262.20L459.06 264.82L459.39 259.75L459.72 259.72L459.80 260.18L460.05 257.96L460.30 257.63L460.38 257.85L460.55 257.76L460.71 257.59L460.80 255.57L461.04 254.44L461.05 254.00L461.30 252.10L461.37 251.44L461.55 249.56L461.70 247.79L461.80 246.50L462.03 243.30L462.05 243.01L462.30 239.46L462.36 238.68L462.55 236.65L462.69 235.77L462.80 235.55L463.02 236.41L463.05 236.65L463.30 239.46L463.35 240.14L463.55 243.01L463.68 244.86L463.80 246.50L464.01 249.10L464.05 249.56L464.30 252.10L464.34 252.46L464.55 254.46L464.67 254.86L464.80 255.98L465.00 257.27L465.05 257.20L465.30 257.26L465.33 258.39L465.55 260.55L465.66 258.40L465.80 259.38L465.99 260.39L466.32 259.95L466.65 263.91L466.98 264.46L467.31 267.16L467.64 266.36L467.97 266.60L468.30 262.27L468.63 267.59L468.96 266.39L469.29 265.70L469.62 266.64L469.95 270.84L470.28 264.63L470.61 266.91L470.94 267.26L471.27 265.11L471.60 265.30L471.93 263.37L472.26 266.13L472.59 265.60L472.92 266.32L473.25 268.41L473.58 268.14L473.91 269.93L474.24 270.16L474.57 263.90L474.90 265.88L475.23 261.92L475.56 266.67L475.89 270.19L476.22 263.49L476.55 270.25L476.88 271.71L477.21 265.92L477.54 268.15L477.87 266.73L478.20 265.85L478.53 267.16L478.86 264.25L479.19 266.57L479.52 265.72L479.85 270.98L480.18 266.54L480.51 265.39L480.84 270.72L481.17 264.20L481.50 272.08L481.83 270.10L482.16 267.81L482.49 265.52L482.82 264.13L483.15 262.80L483.48 263.79L483.81 265.89L484.14 264.36L484.47 270.29L484.80 267.75L485.13 270.97L485.46 267.84L485.79 268.72L486.12 266.74L486.45 263.13L486.78 260.95L487.11 270.46L487.44 266.49L487.77 265.47L488.10 263.94L488.43 267.12L488.76 265.96L489.09 262.27L489.42 268.52L489.75 263.47L490.08 269.29L490.41 267.43L490.74 263.90L491.07 267.02L491.40 267.56L491.73 269.62L492.06 268.80L492.39 264.54L492.72 267.83L493.05 264.46L493.38 264.85L493.71 264.27L494.04 266.29L494.37 271.07L494.70 268.54L495.03 270.49L495.36 267.90L495.69 264.71L496.02 264.87L496.35 266.74L496.68 265.30L497.01 262.29L497.34 268.80L497.67 264.86L498.00 264.85L498.33 265.06L498.66 269.48L498.99 269.39L499.32 265.36L499.65 262.36L499.98 263.94L500.31 266.02L500.64 265.30L500.97 266.16L501.30 269.77L501.63 269.08L501.96 262.82L502.29 266.60L502.62 269.40L502.95 271.31L503.28 267.28L503.61 264.70L503.94 265.02L504.27 267.64L504.60 269.11L504.93 266.91L505.26 264.90L505.59 263.48L505.92 263.44L506.25 269.81L506.58 267.56L506.91 272.25L507.24 264.10L507.57 266.57L507.90 269.17L508.23 264.01L508.56 263.20L508.89 265.52L509.22 268.62L509.55 268.79L509.88 266.21L510.21 264.52L510.54 272.20L510.87 266.22L511.20 268.20L511.53 267.38L511.86 263.49L512.19 264.93L512.52 264.40L512.85 266.40L513.18 263.55L513.51 266.68L513.84 266.02L514.17 266.24L514.50 269.64L514.83 263.43L515.16 265.19L515.49 269.36L515.82 266.51L516.15 266.94L516.48 265.73L516.81 267.61L517.14 266.71L517.47 270.16L517.80 270.05L518.13 266.06L518.46 263.03L518.79 269.73L519.12 265.09L519.45 268.83L519.78 269.62L520.11 266.71L520.44 270.44L520.77 267.87L521.10 268.66L521.43 268.62L521.76 265.78L522.09 266.31L522.42 267.19L522.75 269.63L523.08 269.58L523.41 262.36L523.74 263.70L524.07 266.63L524.40 268.01L524.73 270.17L525.06 270.86L525.39 271.46L525.72 271.33L526.05 268.23L526.38 265.86L526.71 267.22L527.04 263.96L527.37 269.18L527.70 266.31L528.03 264.58L528.36 266.65L528.69 267.28L529.02 270.21L529.35 264.30L529.68 265.92L530.01 269.80L530.34 270.28L530.67 268.88L531.00 267.84L531.33 265.72L531.66 269.89L531.99 270.97L532.32 269.62L532.65 264.88L532.98 265.95L533.31 266.67L533.64 267.54L533.97 264.82L534.30 267.14L534.63 267.22L534.96 266.29L535.29 266.11L535.62 267.10L535.95 266.30L536.28 269.16L536.61 267.45L536.94 266.45L537.27 270.05L537.60 268.78L537.93 266.78L538.26 269.96L538.59 269.58L538.92 270.66L539.25 270.27L539.58 269.91L539.91 267.89L540.24 265.55L540.57 268.16L540.90 267.02L541.23 264.44L541.56 264.20L541.89 265.74L542.22 265.62L542.55 268.03L542.88 269.87L543.21 269.55L543.54 263.63L543.87 268.70L544.20 271.01L544.53 264.26L544.86 266.37L545.19 265.87L545.52 267.63L545.85 265.12L546.18 268.49L546.51 268.30L546.84 269.38L547.17 268.31L547.50 268.81L547.83 265.37L548.16 270.67L548.49 268.76L548.82 268.82L549.15 264.55L549.48 270.90L549.81 270.06L550.14 264.20L550.47 267.65L550.80 268.56L551.13 267.04L551.46 265.38L551.79 266.38L552.12 268.09L552.45 270.72L552.78 265.97L553.11 265.84L553.44 268.58L553.77 265.12L554.10 262.12L554.43 272.37L554.76 265.81L555.09 268.68L555.42 266.29L555.75 263.62L556.08 269.86L556.41 271.59L556.74 265.78L557.07 264.47L557.40 265.30L557.73 265.46L558.06 267.24L558.39 267.11L558.72 267.80L559.05 266.77L559.38 261.47L559.71 262.58L560.04 264.13L560.37 264.40L560.70 262.52L560.90 261.77L561.03 262.94L561.15 259.92L561.36 260.41L561.40 260.05L561.65 259.92L561.69 258.69L561.90 257.32L562.02 257.07L562.15 256.21L562.35 254.41L562.40 253.98L562.65 251.50L562.68 251.18L562.90 248.70L563.01 247.40L563.15 245.74L563.34 243.61L563.40 242.99L563.65 240.96L563.67 240.84L563.90 240.15L564.00 240.23L564.15 240.79L564.33 242.03L564.40 242.65L564.65 245.23L564.66 245.34L564.90 247.99L564.99 248.96L565.15 250.59L565.32 252.17L565.40 252.84L565.65 254.55L565.90 256.65L565.98 256.06L566.00 256.12L566.15 257.41L566.25 257.17L566.31 257.13L566.40 257.88L566.50 258.09L566.64 259.01L566.65 259.66L566.75 259.39L566.90 258.97L566.97 259.15L567.00 258.82L567.25 258.73L567.30 258.98L567.50 258.61L567.63 258.35L567.75 258.06L567.96 257.42L568.00 257.28L568.25 256.36L568.29 256.21L568.50 255.45L568.62 255.08L568.75 254.79L568.95 254.63L569.00 254.65L569.25 255.14L569.28 255.24L569.50 256.17L569.61 256.72L569.75 257.46L569.94 258.48L570.00 258.80L570.25 260.02L570.27 260.11L570.50 261.08L570.60 261.36L570.75 261.71L570.93 261.78L571.00 262.82L571.25 262.60L571.26 264.18L571.50 263.97L571.59 263.20L571.75 265.23L571.92 265.45L572.00 263.48L572.25 266.31L572.58 267.61L572.91 266.14L573.24 263.70L573.57 266.89L573.90 268.83L574.23 264.86L574.56 262.67L574.89 268.40L575.22 266.75L575.55 264.73L575.88 266.64L576.21 264.15L576.54 268.57L576.87 264.61L577.20 264.18L577.53 262.13L577.86 264.16L578.19 269.69L578.52 265.23L578.85 266.20L579.18 271.01L579.51 262.62L579.84 264.60L580.17 267.61L580.50 262.91L580.83 270.66L581.16 269.07L581.49 264.30L581.82 267.58L582.15 266.73L582.48 268.09L582.81 264.98" fill="none" stroke="#ff0000" stroke-width="3.4" stroke-linejoin="round" stroke-linecap="round"/>
<g>
<text x="36.00" y="357.5" text-anchor="middle">10</text>
<text x="114.15" y="357.5" text-anchor="middle">20</text>
<text x="192.30" y="357.5" text-anchor="middle">30</text>
<text x="270.45" y="357.5" text-anchor="middle">40</text>
<text x="348.60" y="357.5" text-anchor="middle">50</text>
<text x="426.75" y="357.5" text-anchor="middle">60</text>
<text x="504.90" y="357.5" text-anchor="middle">70</text>
<text x="583.05" y="357.5" text-anchor="middle">80</text>
<text x="308.8" y="385.5" text-anchor="middle">2θ (degrees)</text>
<text x="256" y="23.8" text-anchor="middle">Au</text>
<text x="255.7" y="47.5" text-anchor="middle">(1 1 1)</text>
<text x="164.5" y="164.5" text-anchor="middle">C</text>
<text x="303.6" y="166.8" text-anchor="middle">Au</text>
<text x="302.6" y="189.7" text-anchor="middle">(2 0 0)</text>
<text x="463.9" y="197.6" text-anchor="middle">Au</text>
<text x="463.4" y="220.8" text-anchor="middle">(2 2 0)</text>
<text x="552" y="203.0" text-anchor="middle">Au</text>
<text x="551" y="226.3" text-anchor="middle">(3 1 1)</text>
<text x="49" y="211.0">Au@rGO</text>
<text x="73.5" y="289.1">rGO</text>
<text transform="translate(17,175.8) rotate(-90)" text-anchor="middle">Intensity (a. u.)</text>
</g>
</svg>
</body></html>
